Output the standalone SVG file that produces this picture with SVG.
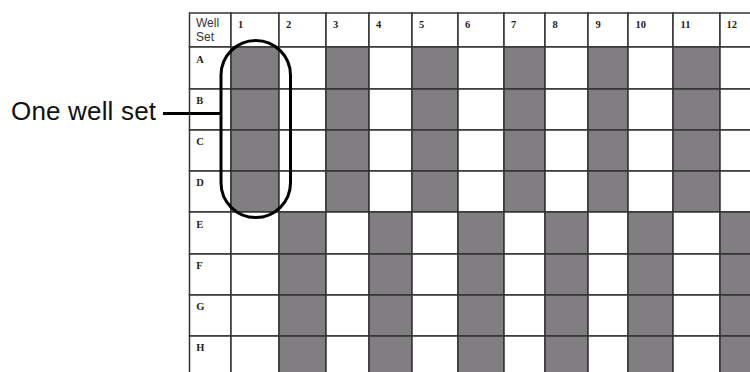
<svg xmlns="http://www.w3.org/2000/svg" width="750" height="372" viewBox="0 0 750 372">
<style>
.cell{fill:#ffffff;stroke:#333333;stroke-width:1.5}
.dark{fill:#807e81;stroke:#333333;stroke-width:1.5}
.hd{font-family:"Liberation Serif",serif;font-weight:bold;font-size:10.5px;fill:#222}
.ws{font-family:"Liberation Sans",Arial,sans-serif;font-size:12px;fill:#333}
.lbl{font-family:"Liberation Sans",Arial,sans-serif;font-size:26px;fill:#111}
.ln{stroke:#000;stroke-width:3;fill:none}
</style>
<rect width="750" height="372" fill="#ffffff"/>
<g id="plate">
<!-- header row -->
<rect class="cell" x="189.5" y="13" width="41.5" height="34"/>
<rect class="cell" x="231" y="13" width="48" height="34"/>
<rect class="cell" x="279" y="13" width="47" height="34"/>
<rect class="cell" x="326" y="13" width="43" height="34"/>
<rect class="cell" x="369" y="13" width="43" height="34"/>
<rect class="cell" x="412" y="13" width="46" height="34"/>
<rect class="cell" x="458" y="13" width="46" height="34"/>
<rect class="cell" x="504" y="13" width="41" height="34"/>
<rect class="cell" x="545" y="13" width="43" height="34"/>
<rect class="cell" x="588" y="13" width="40" height="34"/>
<rect class="cell" x="628" y="13" width="45" height="34"/>
<rect class="cell" x="673" y="13" width="47" height="34"/>
<rect class="cell" x="720" y="13" width="46" height="34"/>
<text class="ws" x="196" y="27.3">Well</text>
<text class="ws" x="196" y="41">Set</text>
<text class="hd" x="238" y="27.5">1</text>
<text class="hd" x="286" y="27.5">2</text>
<text class="hd" x="333" y="27.5">3</text>
<text class="hd" x="376" y="27.5">4</text>
<text class="hd" x="419" y="27.5">5</text>
<text class="hd" x="465" y="27.5">6</text>
<text class="hd" x="511" y="27.5">7</text>
<text class="hd" x="552.5" y="27.5">8</text>
<text class="hd" x="595.5" y="27.5">9</text>
<text class="hd" x="635.5" y="27.5">10</text>
<text class="hd" x="680.5" y="27.5">11</text>
<text class="hd" x="726.5" y="27.5">12</text>
<!-- row label cells -->
<rect class="cell" x="189.5" y="47" width="41.5" height="42"/>
<rect class="cell" x="189.5" y="89" width="41.5" height="41"/>
<rect class="cell" x="189.5" y="130" width="41.5" height="41"/>
<rect class="cell" x="189.5" y="171" width="41.5" height="41"/>
<rect class="cell" x="189.5" y="212" width="41.5" height="42"/>
<rect class="cell" x="189.5" y="254" width="41.5" height="41"/>
<rect class="cell" x="189.5" y="295" width="41.5" height="41"/>
<rect class="cell" x="189.5" y="336" width="41.5" height="41"/>
<text class="hd" x="196.3" y="62.5">A</text>
<text class="hd" x="196.3" y="104">B</text>
<text class="hd" x="196.3" y="145">C</text>
<text class="hd" x="196.3" y="186">D</text>
<text class="hd" x="196.3" y="228">E</text>
<text class="hd" x="196.3" y="269">F</text>
<text class="hd" x="196.3" y="310">G</text>
<text class="hd" x="196.3" y="351">H</text>
<!-- rows A-D: odd columns shaded -->
<g>
<rect class="dark" x="231" y="47" width="48" height="42"/><rect class="cell" x="279" y="47" width="47" height="42"/><rect class="dark" x="326" y="47" width="43" height="42"/><rect class="cell" x="369" y="47" width="43" height="42"/><rect class="dark" x="412" y="47" width="46" height="42"/><rect class="cell" x="458" y="47" width="46" height="42"/><rect class="dark" x="504" y="47" width="41" height="42"/><rect class="cell" x="545" y="47" width="43" height="42"/><rect class="dark" x="588" y="47" width="40" height="42"/><rect class="cell" x="628" y="47" width="45" height="42"/><rect class="dark" x="673" y="47" width="47" height="42"/><rect class="cell" x="720" y="47" width="46" height="42"/>
<rect class="dark" x="231" y="89" width="48" height="41"/><rect class="cell" x="279" y="89" width="47" height="41"/><rect class="dark" x="326" y="89" width="43" height="41"/><rect class="cell" x="369" y="89" width="43" height="41"/><rect class="dark" x="412" y="89" width="46" height="41"/><rect class="cell" x="458" y="89" width="46" height="41"/><rect class="dark" x="504" y="89" width="41" height="41"/><rect class="cell" x="545" y="89" width="43" height="41"/><rect class="dark" x="588" y="89" width="40" height="41"/><rect class="cell" x="628" y="89" width="45" height="41"/><rect class="dark" x="673" y="89" width="47" height="41"/><rect class="cell" x="720" y="89" width="46" height="41"/>
<rect class="dark" x="231" y="130" width="48" height="41"/><rect class="cell" x="279" y="130" width="47" height="41"/><rect class="dark" x="326" y="130" width="43" height="41"/><rect class="cell" x="369" y="130" width="43" height="41"/><rect class="dark" x="412" y="130" width="46" height="41"/><rect class="cell" x="458" y="130" width="46" height="41"/><rect class="dark" x="504" y="130" width="41" height="41"/><rect class="cell" x="545" y="130" width="43" height="41"/><rect class="dark" x="588" y="130" width="40" height="41"/><rect class="cell" x="628" y="130" width="45" height="41"/><rect class="dark" x="673" y="130" width="47" height="41"/><rect class="cell" x="720" y="130" width="46" height="41"/>
<rect class="dark" x="231" y="171" width="48" height="41"/><rect class="cell" x="279" y="171" width="47" height="41"/><rect class="dark" x="326" y="171" width="43" height="41"/><rect class="cell" x="369" y="171" width="43" height="41"/><rect class="dark" x="412" y="171" width="46" height="41"/><rect class="cell" x="458" y="171" width="46" height="41"/><rect class="dark" x="504" y="171" width="41" height="41"/><rect class="cell" x="545" y="171" width="43" height="41"/><rect class="dark" x="588" y="171" width="40" height="41"/><rect class="cell" x="628" y="171" width="45" height="41"/><rect class="dark" x="673" y="171" width="47" height="41"/><rect class="cell" x="720" y="171" width="46" height="41"/>
</g>
<!-- rows E-H: even columns shaded -->
<g>
<rect class="cell" x="231" y="212" width="48" height="42"/><rect class="dark" x="279" y="212" width="47" height="42"/><rect class="cell" x="326" y="212" width="43" height="42"/><rect class="dark" x="369" y="212" width="43" height="42"/><rect class="cell" x="412" y="212" width="46" height="42"/><rect class="dark" x="458" y="212" width="46" height="42"/><rect class="cell" x="504" y="212" width="41" height="42"/><rect class="dark" x="545" y="212" width="43" height="42"/><rect class="cell" x="588" y="212" width="40" height="42"/><rect class="dark" x="628" y="212" width="45" height="42"/><rect class="cell" x="673" y="212" width="47" height="42"/><rect class="dark" x="720" y="212" width="46" height="42"/>
<rect class="cell" x="231" y="254" width="48" height="41"/><rect class="dark" x="279" y="254" width="47" height="41"/><rect class="cell" x="326" y="254" width="43" height="41"/><rect class="dark" x="369" y="254" width="43" height="41"/><rect class="cell" x="412" y="254" width="46" height="41"/><rect class="dark" x="458" y="254" width="46" height="41"/><rect class="cell" x="504" y="254" width="41" height="41"/><rect class="dark" x="545" y="254" width="43" height="41"/><rect class="cell" x="588" y="254" width="40" height="41"/><rect class="dark" x="628" y="254" width="45" height="41"/><rect class="cell" x="673" y="254" width="47" height="41"/><rect class="dark" x="720" y="254" width="46" height="41"/>
<rect class="cell" x="231" y="295" width="48" height="41"/><rect class="dark" x="279" y="295" width="47" height="41"/><rect class="cell" x="326" y="295" width="43" height="41"/><rect class="dark" x="369" y="295" width="43" height="41"/><rect class="cell" x="412" y="295" width="46" height="41"/><rect class="dark" x="458" y="295" width="46" height="41"/><rect class="cell" x="504" y="295" width="41" height="41"/><rect class="dark" x="545" y="295" width="43" height="41"/><rect class="cell" x="588" y="295" width="40" height="41"/><rect class="dark" x="628" y="295" width="45" height="41"/><rect class="cell" x="673" y="295" width="47" height="41"/><rect class="dark" x="720" y="295" width="46" height="41"/>
<rect class="cell" x="231" y="336" width="48" height="41"/><rect class="dark" x="279" y="336" width="47" height="41"/><rect class="cell" x="326" y="336" width="43" height="41"/><rect class="dark" x="369" y="336" width="43" height="41"/><rect class="cell" x="412" y="336" width="46" height="41"/><rect class="dark" x="458" y="336" width="46" height="41"/><rect class="cell" x="504" y="336" width="41" height="41"/><rect class="dark" x="545" y="336" width="43" height="41"/><rect class="cell" x="588" y="336" width="40" height="41"/><rect class="dark" x="628" y="336" width="45" height="41"/><rect class="cell" x="673" y="336" width="47" height="41"/><rect class="dark" x="720" y="336" width="46" height="41"/>
</g>
</g>
<g id="well-set-outline">
<rect class="ln" x="221" y="40.5" width="69.5" height="177" rx="34.75" ry="34.75"/>
</g>
<g id="label-one-well-set">
<text class="lbl" x="11" y="120" textLength="145" lengthAdjust="spacing">One well set</text>
</g>
<g id="connectors">
<line class="ln" x1="163" y1="113.5" x2="221" y2="113.5"/>
</g>
</svg>
